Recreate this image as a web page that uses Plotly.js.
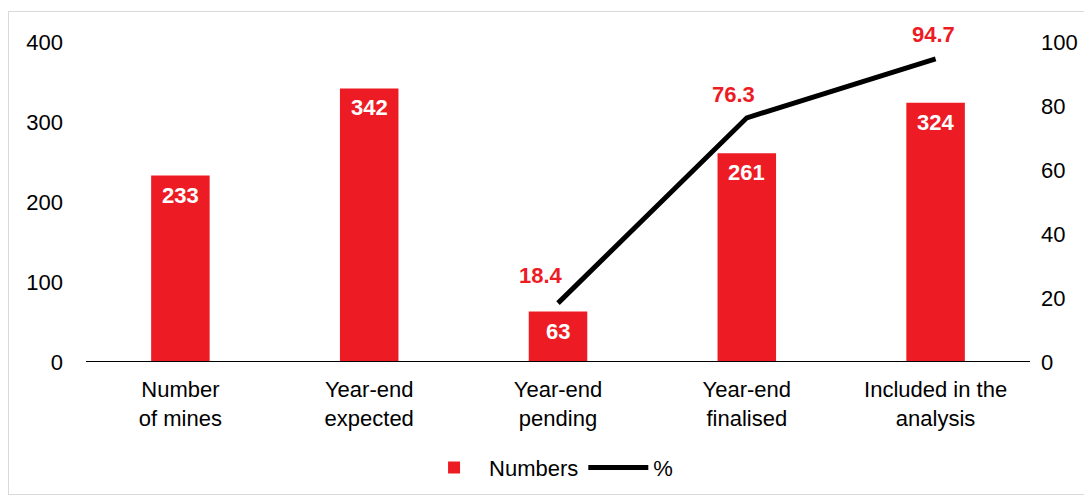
<!DOCTYPE html>
<html>
<head>
<meta charset="utf-8">
<script src="https://cdn.plot.ly/plotly-3.0.1.min.js"></script>
<style>
html,body{margin:0;padding:0;background:#fff;}
#frame{position:absolute;left:8px;top:11px;width:1090px;height:484px;border:1px solid #d9d9d9;box-sizing:border-box;}
#chart{position:absolute;left:0;top:0;width:1084px;height:497px;}
</style>
</head>
<body>
<div id="frame"></div>
<div id="chart"></div>
<script>
const categories = ["Number<br>of mines", "Year-end<br>expected", "Year-end<br>pending", "Year-end<br>finalised", "Included in the<br>analysis"];
const numbers = [233, 342, 63, 261, 324];
const pctCategories = ["Year-end<br>pending", "Year-end<br>finalised", "Included in the<br>analysis"];
const pctValues = [18.4, 76.3, 94.7];

const red = "#ED1C24";
const font = "Liberation Sans, Arial, sans-serif";
const fs = 22;

const bars = {
  type: "bar",
  name: "Numbers",
  x: categories,
  y: numbers,
  marker: {color: red},
  width: 0.31,
  hoverinfo: "skip"
};

const line = {
  type: "scatter",
  mode: "lines",
  name: "%",
  x: pctCategories,
  y: pctValues,
  yaxis: "y2",
  line: {color: "#000", width: 5},
  cliponaxis: false,
  hoverinfo: "skip"
};

const barAnnotations = numbers.map((v, i) => ({
  xref: "x", yref: "y",
  x: categories[i], y: v,
  text: "<b>" + v + "</b>",
  showarrow: false,
  yanchor: "top",
  yshift: -5,
  font: {family: font, size: fs, color: "#fff"}
}));

const pctShifts = [13, 9, 10];
const pctXShifts = [-17, -13, -2];
const pctAnnotations = pctValues.map((v, i) => ({
  xref: "x", yref: "y2",
  x: pctCategories[i], y: v,
  text: "<b>" + v.toFixed(1) + "</b>",
  showarrow: false,
  yanchor: "bottom",
  yshift: pctShifts[i],
  xshift: pctXShifts[i],
  font: {family: font, size: fs, color: red}
}));

const layout = {
  width: 1084,
  height: 497,
  paper_bgcolor: "rgba(0,0,0,0)",
  plot_bgcolor: "rgba(0,0,0,0)",
  margin: {l: 86, r: 54, t: 42, b: 135, autoexpand: false},
  font: {family: font, size: fs, color: "#000"},
  showlegend: true,
  legend: {
    orientation: "h",
    x: 0.49, xanchor: "center",
    y: -0.33, yanchor: "middle",
    font: {family: font, size: fs, color: "#000"},
    itemwidth: 60
  },
  xaxis: {
    type: "category",
    showgrid: false,
    showline: false,
    ticks: "",
    tickfont: {family: font, size: fs, color: "#000"},
    ticklabelstandoff: 12,
    zeroline: false
  },
  yaxis: {
    range: [0, 400],
    dtick: 100,
    showgrid: false,
    zeroline: false,
    showline: false,
    ticks: "",
    tickfont: {family: font, size: fs, color: "#000"},
    ticklabelstandoff: 22
  },
  yaxis2: {
    overlaying: "y",
    side: "right",
    range: [0, 100],
    dtick: 20,
    showgrid: false,
    zeroline: false,
    showline: false,
    ticks: "",
    tickfont: {family: font, size: fs, color: "#000"},
    ticklabelstandoff: 10
  },
  annotations: barAnnotations.concat(pctAnnotations),
  shapes: [{
    type: "line", xref: "paper", yref: "y",
    x0: 0, x1: 1, y0: 0, y1: 0,
    line: {color: "#000", width: 2}
  }],
  bargap: 0.69
};

Plotly.newPlot("chart", [bars, line], layout, {displayModeBar: false, staticPlot: true});
</script>
</body>
</html>
